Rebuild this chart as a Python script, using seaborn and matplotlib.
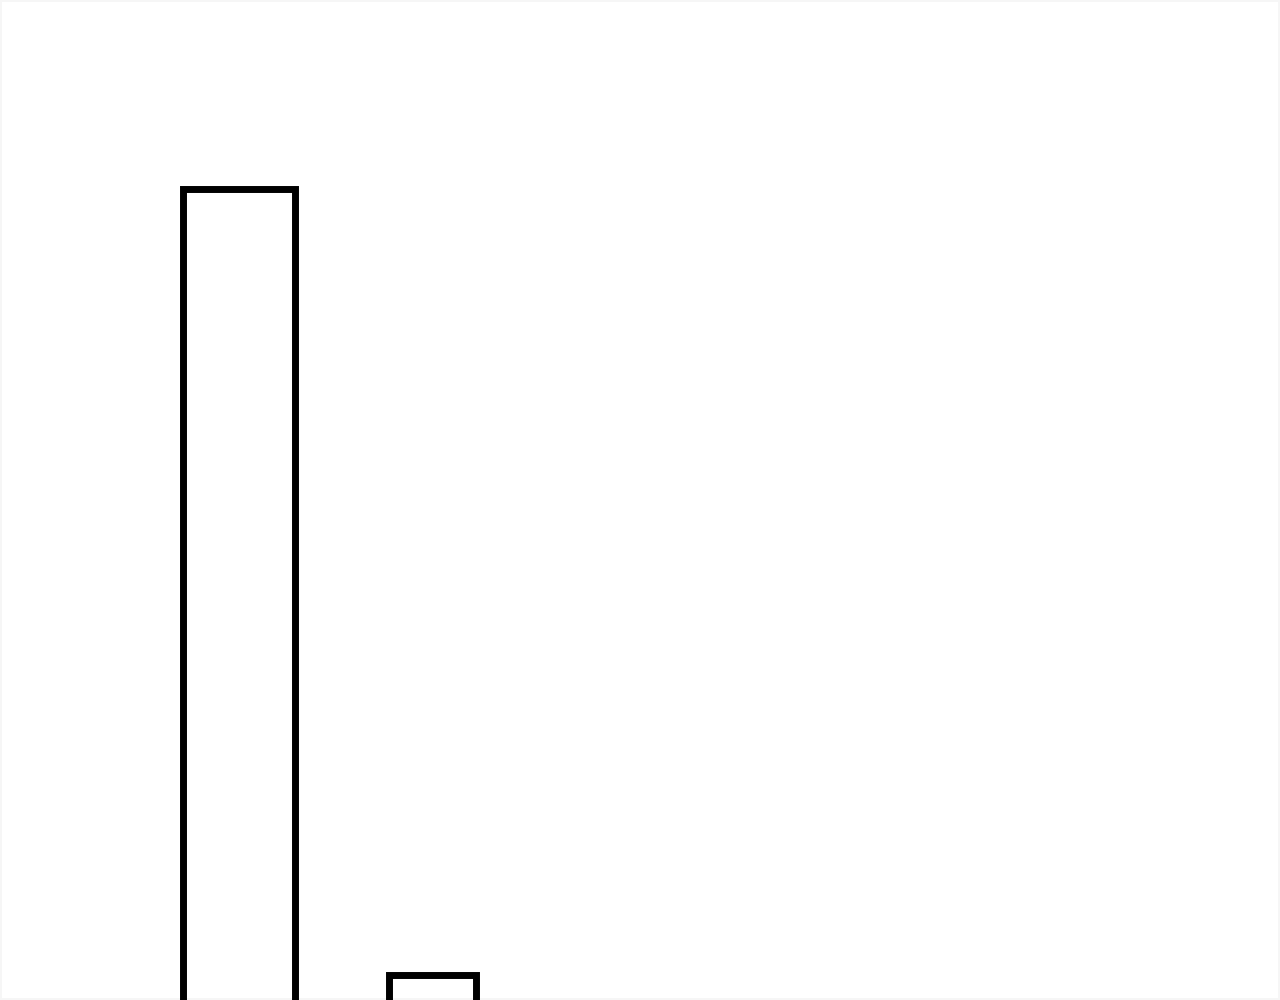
import matplotlib
matplotlib.use("Agg")
import matplotlib.pyplot as plt
import seaborn as sns

# bin edges and weights (only the top part of the bars is in view)
bin_edges = [1.95, 3.14, 4.14, 5.06]
bin_centers = [2.545, 4.60]
bin_heights = [9.11, 1.255]
x_range = (0, 13.62)
y_range = (1.0, 11.0)

sns.set_theme(style="white")

fig = plt.figure(figsize=(12.8, 10), dpi=100, facecolor="white",
                 edgecolor="#f6f6f6", linewidth=1.5)
ax = fig.add_axes([0, 0, 1, 1])

sns.histplot(
    x=bin_centers,
    weights=bin_heights,
    bins=bin_edges,
    fill=False,
    color="black",
    linewidth=5,
    ax=ax,
)

ax.set_xlim(*x_range)
ax.set_ylim(*y_range)
ax.set_axis_off()

fig.savefig("out.png", dpi=100, facecolor="white", edgecolor=fig.get_edgecolor())
